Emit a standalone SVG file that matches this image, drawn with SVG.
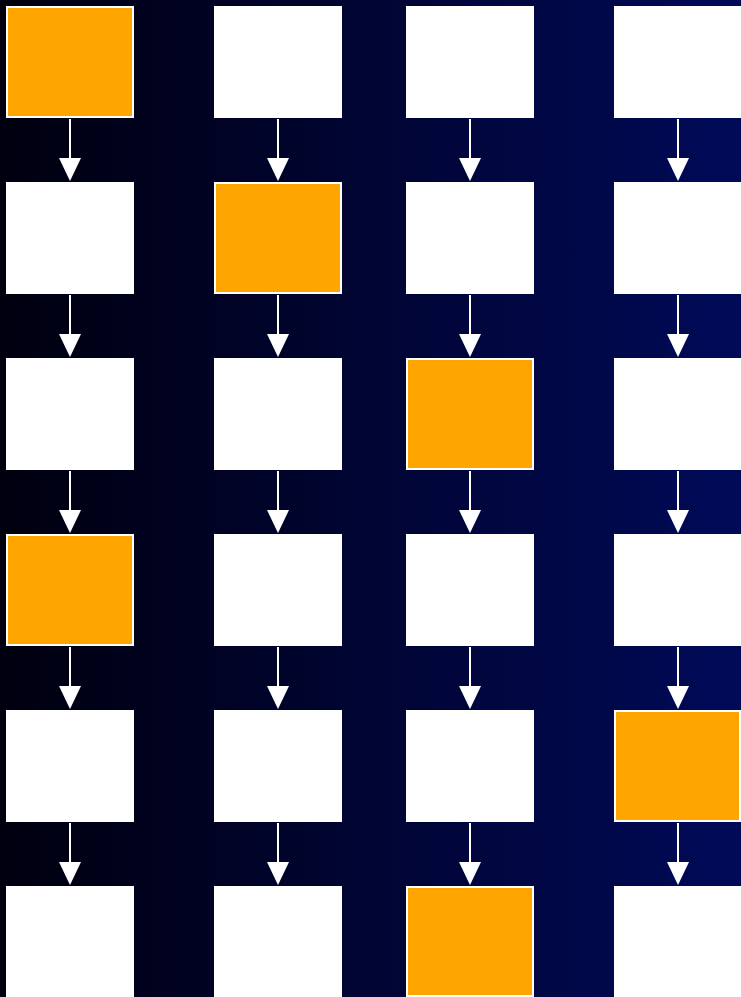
<svg xmlns="http://www.w3.org/2000/svg" width="741" height="997" viewBox="0 0 741 997">
  <defs>
    <linearGradient id="bg" x1="0" y1="0" x2="1" y2="0">
      <stop offset="0" stop-color="#00000f"/>
      <stop offset="1" stop-color="#000a58"/>
    </linearGradient>
    <marker id="ah" markerUnits="userSpaceOnUse" markerWidth="24" markerHeight="24" refX="7" refY="11" orient="auto">
      <path d="M0,0 L23,11 L0,22 Z" fill="#ffffff"/>
    </marker>
    <style>
      .w { fill: #ffffff; }
      .o { fill: #ffa500; stroke: #ffffff; stroke-width: 2; }
      .c line { stroke: #ffffff; stroke-width: 2; marker-end: url(#ah); }
    </style>
  </defs>
  <rect x="0" y="0" width="741" height="997" fill="url(#bg)"/>

  <g id="r1c1"><rect class="o" x="7" y="7" width="126" height="110"/></g>
  <g id="r1c2"><rect class="w" x="214" y="6" width="128" height="112"/></g>
  <g id="r1c3"><rect class="w" x="406" y="6" width="128" height="112"/></g>
  <g id="r1c4"><rect class="w" x="614" y="6" width="128" height="112"/></g>

  <g id="r2c1"><rect class="w" x="6" y="182" width="128" height="112"/></g>
  <g id="r2c2"><rect class="o" x="215" y="183" width="126" height="110"/></g>
  <g id="r2c3"><rect class="w" x="406" y="182" width="128" height="112"/></g>
  <g id="r2c4"><rect class="w" x="614" y="182" width="128" height="112"/></g>

  <g id="r3c1"><rect class="w" x="6" y="358" width="128" height="112"/></g>
  <g id="r3c2"><rect class="w" x="214" y="358" width="128" height="112"/></g>
  <g id="r3c3"><rect class="o" x="407" y="359" width="126" height="110"/></g>
  <g id="r3c4"><rect class="w" x="614" y="358" width="128" height="112"/></g>

  <g id="r4c1"><rect class="o" x="7" y="535" width="126" height="110"/></g>
  <g id="r4c2"><rect class="w" x="214" y="534" width="128" height="112"/></g>
  <g id="r4c3"><rect class="w" x="406" y="534" width="128" height="112"/></g>
  <g id="r4c4"><rect class="w" x="614" y="534" width="128" height="112"/></g>

  <g id="r5c1"><rect class="w" x="6" y="710" width="128" height="112"/></g>
  <g id="r5c2"><rect class="w" x="214" y="710" width="128" height="112"/></g>
  <g id="r5c3"><rect class="w" x="406" y="710" width="128" height="112"/></g>
  <g id="r5c4"><rect class="o" x="615" y="711" width="125" height="110"/></g>

  <g id="r6c1"><rect class="w" x="6" y="886" width="128" height="112"/></g>
  <g id="r6c2"><rect class="w" x="214" y="886" width="128" height="112"/></g>
  <g id="r6c3"><rect class="o" x="407" y="887" width="126" height="109"/></g>
  <g id="r6c4"><rect class="w" x="614" y="886" width="128" height="112"/></g>

  <g id="connectors" class="c">
    <line x1="70" y1="119" x2="70" y2="165"/>
    <line x1="278" y1="119" x2="278" y2="165"/>
    <line x1="470" y1="119" x2="470" y2="165"/>
    <line x1="678" y1="119" x2="678" y2="165"/>

    <line x1="70" y1="295" x2="70" y2="341"/>
    <line x1="278" y1="295" x2="278" y2="341"/>
    <line x1="470" y1="295" x2="470" y2="341"/>
    <line x1="678" y1="295" x2="678" y2="341"/>

    <line x1="70" y1="471" x2="70" y2="517"/>
    <line x1="278" y1="471" x2="278" y2="517"/>
    <line x1="470" y1="471" x2="470" y2="517"/>
    <line x1="678" y1="471" x2="678" y2="517"/>

    <line x1="70" y1="647" x2="70" y2="693"/>
    <line x1="278" y1="647" x2="278" y2="693"/>
    <line x1="470" y1="647" x2="470" y2="693"/>
    <line x1="678" y1="647" x2="678" y2="693"/>

    <line x1="70" y1="823" x2="70" y2="869"/>
    <line x1="278" y1="823" x2="278" y2="869"/>
    <line x1="470" y1="823" x2="470" y2="869"/>
    <line x1="678" y1="823" x2="678" y2="869"/>
  </g>
</svg>
